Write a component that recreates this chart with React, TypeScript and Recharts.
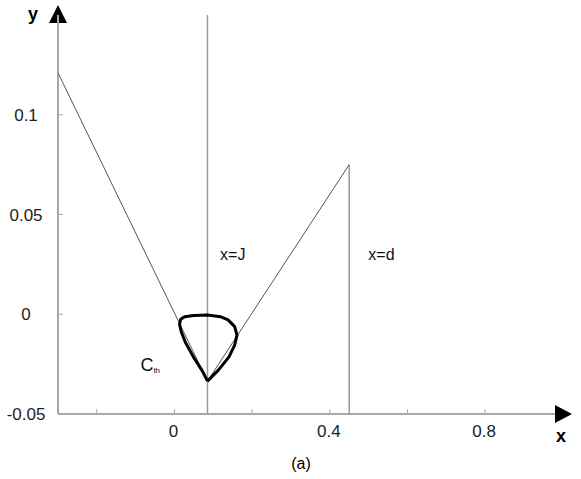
import React from 'react';
import { ComposedChart, Scatter, XAxis, YAxis, ReferenceLine, ReferenceDot } from 'recharts';

const xTicks = [-0.2, 0, 0.2, 0.4, 0.6, 0.8];
const xTickLabels: Record<string, string> = { '0': '0', '0.4': '0.4', '0.8': '0.8' };
const yTicks = [-0.05, 0, 0.05, 0.1];
const yTickLabels: Record<string, string> = { '-0.05': '-0.05', '0': '0', '0.05': '0.05', '0.1': '0.1' };

const J = 0.085;

const slopeLine = [
  { x: -0.3, y: 0.121 },
  { x: 0.085, y: -0.0335 },
  { x: 0.45, y: 0.075 },
];
const dLine = [
  { x: 0.45, y: 0.075 },
  { x: 0.45, y: -0.05 },
];
const cthCurve = [
  { x: 0.085, y: -0.0335 },
  { x: 0.072, y: -0.0285 },
  { x: 0.049, y: -0.0215 },
  { x: 0.028, y: -0.014 },
  { x: 0.017, y: -0.0085 },
  { x: 0.013, y: -0.005 },
  { x: 0.016, y: -0.0025 },
  { x: 0.026, y: -0.0012 },
  { x: 0.049, y: -0.0006 },
  { x: 0.085, y: -0.0004 },
  { x: 0.118, y: -0.0012 },
  { x: 0.138, y: -0.0028 },
  { x: 0.155, y: -0.0062 },
  { x: 0.161, y: -0.0105 },
  { x: 0.155, y: -0.0155 },
  { x: 0.14, y: -0.0215 },
  { x: 0.113, y: -0.028 },
  { x: 0.085, y: -0.0335 },
];
const annotations = [
  { x: 0.15, y: 0.03, text: 'x=J' },
  { x: 0.533, y: 0.03, text: 'x=d' },
];
const cthLabel = { x: -0.0625, y: -0.0254 };

const FONT = 'Liberation Sans, Arial, sans-serif';
const AXIS = '#a9a9a9';

const W = 581;
const H = 479;
const M = { top: 15, right: 26, bottom: 35, left: 0 };
const Y_W = 58;
const X_H = 30;
const PLOT = {
  left: M.left + Y_W,
  top: M.top,
  right: W - M.right,
  bottom: H - M.bottom - X_H,
};

const XTick = (props: any) => {
  const { x, y, payload } = props;
  const t = xTickLabels[String(payload.value)] ?? '';
  return (
    <text x={x - 1} y={y} dy={14} textAnchor="middle" fontFamily={FONT} fontSize={17} fill="#222">
      {t}
    </text>
  );
};
const YTick = (props: any) => {
  const { x, y, payload } = props;
  const t = yTickLabels[String(payload.value)] ?? '';
  return (
    <text x={x - 12} y={y} dy={6} textAnchor="middle" fontFamily={FONT} fontSize={17} fill="#222">
      {t}
    </text>
  );
};

const XAxisDecor = () => {
  const { left, top, right, bottom } = PLOT;
  return (
    <g>
      <polygon points={`${left},${top - 10} ${left - 9},${top + 8} ${left + 9},${top + 8}`} fill="#000" />
      <polygon points={`${right + 17},${bottom} ${right},${bottom - 9} ${right},${bottom + 9}`} fill="#000" />
      <text x={left - 30} y={top + 5} fontFamily={FONT} fontWeight="bold" fontSize={18} fill="#000">y</text>
      <text x={right + 1} y={bottom + 28} fontFamily={FONT} fontWeight="bold" fontSize={18} fill="#000">x</text>
      <text x={301} y={bottom + 55} textAnchor="middle" fontFamily={FONT} fontSize={16} fill="#000">(a)</text>
    </g>
  );
};

const AnnLabel = (text: string) => (props: any) => {
  const vb = props.viewBox || {};
  const cx = (vb.x ?? 0) + (vb.width ?? 0) / 2;
  const cy = (vb.y ?? 0) + (vb.height ?? 0) / 2;
  return (
    <text x={cx} y={cy} dy={6} textAnchor="middle" fontFamily={FONT} fontSize={16} fill="#111">
      {text}
    </text>
  );
};
const CthLabel = (props: any) => {
  const vb = props.viewBox || {};
  const cx = (vb.x ?? 0) + (vb.width ?? 0) / 2;
  const cy = (vb.y ?? 0) + (vb.height ?? 0) / 2;
  return (
    <text x={cx} y={cy} dy={6} textAnchor="middle" fontFamily={FONT} fontSize={18} fill="#111">
      C<tspan fontSize={8} dy={2}>th</tspan>
    </text>
  );
};

const noShape = () => <g />;

export default function App() {
  return (
    <div style={{ position: 'absolute', left: 0, top: 0, width: W, height: H, background: '#fff' }}>
      <ComposedChart width={W} height={H} margin={M}>
        <XAxis
          type="number"
          dataKey="x"
          domain={[-0.3, 0.98]}
          ticks={xTicks}
          allowDataOverflow
          height={X_H}
          tickSize={-5}
          tickMargin={14}
          tick={<XTick />}
          axisLine={{ stroke: AXIS, strokeWidth: 2 }}
          tickLine={{ stroke: AXIS, strokeWidth: 1 }}
          label={<XAxisDecor />}
        />
        <YAxis
          type="number"
          dataKey="y"
          domain={[-0.05, 0.15]}
          ticks={yTicks}
          allowDataOverflow
          width={Y_W}
          tickSize={-5}
          tickMargin={25}
          tick={<YTick />}
          axisLine={{ stroke: AXIS, strokeWidth: 2 }}
          tickLine={{ stroke: AXIS, strokeWidth: 1 }}
        />
        <ReferenceLine x={J} stroke="#9a9a9a" strokeWidth={1.5} />
        <Scatter data={dLine} line={{ stroke: '#9a9a9a', strokeWidth: 1.5 }} lineType="joint" shape={noShape} isAnimationActive={false} />
        <Scatter data={slopeLine} line={{ stroke: '#555', strokeWidth: 1 }} lineType="joint" shape={noShape} isAnimationActive={false} />
        <Scatter data={cthCurve} line={{ stroke: '#000', strokeWidth: 3, strokeLinejoin: 'round' }} lineType="joint" shape={noShape} isAnimationActive={false} />
        {annotations.map((a) => (
          <ReferenceDot key={a.text} x={a.x} y={a.y} r={0} fill="none" stroke="none" label={AnnLabel(a.text)} />
        ))}
        <ReferenceDot x={cthLabel.x} y={cthLabel.y} r={0} fill="none" stroke="none" label={CthLabel} />
      </ComposedChart>
    </div>
  );
}
